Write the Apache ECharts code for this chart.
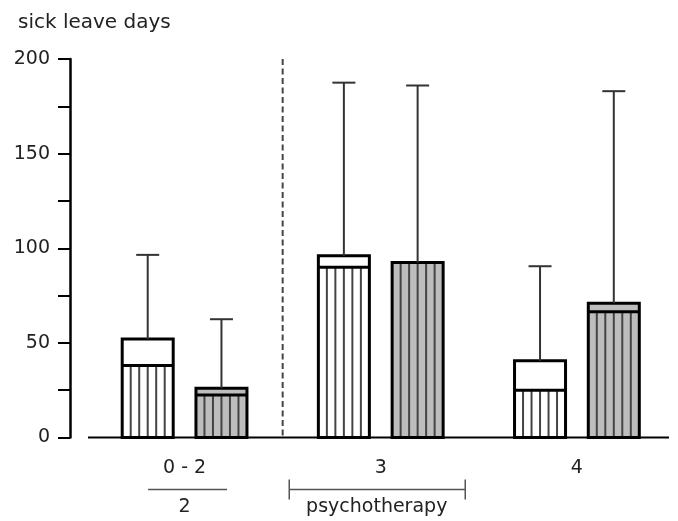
<!DOCTYPE html>
<html>
<head>
<meta charset="utf-8">
<script src="https://cdn.jsdelivr.net/npm/echarts@6/dist/echarts.min.js"></script>
<style>
html,body{margin:0;padding:0;background:#fff;}
#chart{width:678px;height:521px;}
</style>
</head>
<body>
<div id="chart"></div>
<script>
// ---- data ----
const categories = ['0 - 2', '3', '4'];
const subLabels = ['2', 'psychotherapy', ''];
const yTickLabels = [0, 50, 100, 150, 200];
// white (open) bars
const whiteTop = [52, 96, 40.5];
const whiteInner = [38, 90, 25];
const whiteWhisker = [96.5, 187.5, 90.5];
// grey bars
const greyTop = [26, 92.5, 71];
const greyInner = [22.5, 92.5, 66.5];
const greyWhisker = [62.5, 186, 183];

const FONT = 'DejaVu Sans';

function makeRender(sign, fill, hatchColor) {
  return function (params, api) {
    const cat = api.value(0);
    const inner = api.value(1), top = api.value(2), wh = api.value(3);
    const base = api.coord([cat, 0]);
    const band = api.size([1, 0])[0];
    const cx = base[0] + sign * 0.188 * band;
    const w = 0.26 * band;
    const x0 = cx - w / 2, x1 = cx + w / 2;
    const yTop = api.coord([cat, top])[1];
    const yIn = api.coord([cat, inner])[1];
    const yWh = api.coord([cat, wh])[1];
    const yB = base[1];
    const children = [];
    children.push({type: 'rect', shape: {x: x0, y: yTop, width: w, height: yB - yTop}, style: {fill: fill, stroke: null}});
    for (let k = 1; k <= 5; k++) {
      const hx = x0 + w * k / 6;
      children.push({type: 'line', shape: {x1: hx, y1: yIn, x2: hx, y2: yB}, style: {stroke: hatchColor, lineWidth: 2}});
    }
    children.push({type: 'line', shape: {x1: x0, y1: yIn, x2: x1, y2: yIn}, style: {stroke: '#000', lineWidth: 3}});
    children.push({type: 'rect', shape: {x: x0, y: yTop, width: w, height: yB - yTop}, style: {fill: null, stroke: '#000', lineWidth: 3}});
    children.push({type: 'line', shape: {x1: cx, y1: yTop, x2: cx, y2: yWh}, style: {stroke: '#333', lineWidth: 2}});
    children.push({type: 'line', shape: {x1: cx - 11.5, y1: yWh, x2: cx + 11.5, y2: yWh}, style: {stroke: '#333', lineWidth: 2}});
    return {type: 'group', children: children};
  };
}

const whiteData = categories.map((c, i) => [i, whiteInner[i], whiteTop[i], whiteWhisker[i]]);
const greyData = categories.map((c, i) => [i, greyInner[i], greyTop[i], greyWhisker[i]]);

const chart = echarts.init(document.getElementById('chart'), null, {renderer: 'canvas'});
const option = {
  animation: false,
  backgroundColor: '#fff',
  title: {
    text: 'sick leave days', left: 13, top: 8,
    textStyle: {fontFamily: FONT, fontSize: 20, fontWeight: 'normal', color: '#222'}
  },
  grid: {left: 86.5, right: 3, top: 59, bottom: 83.5},
  xAxis: {
    type: 'category', data: categories,
    axisLine: {show: false},
    axisTick: {show: false},
    axisLabel: {margin: 21, fontFamily: FONT, fontSize: 19, color: '#222'},
    splitLine: {show: false}
  },
  yAxis: {
    type: 'value', min: 0, max: 200, interval: 25, offset: 16.5,
    axisLine: {show: true, lineStyle: {color: '#000', width: 2.5}},
    axisTick: {show: true, length: 12, lineStyle: {color: '#000', width: 2}},
    axisLabel: {
      margin: 20, fontFamily: FONT, fontSize: 19, color: '#222',
      formatter: v => (yTickLabels.indexOf(v) >= 0 ? String(v) : '')
    },
    splitLine: {show: false}
  },
  series: [
    {type: 'custom', name: 'white', renderItem: makeRender(-1, '#fff', '#444'), data: whiteData, encode: {x: 0, y: [1, 2, 3]}, clip: false, z: 3},
    {type: 'custom', name: 'grey', renderItem: makeRender(1, '#bdbdbd', '#444'), data: greyData, encode: {x: 0, y: [1, 2, 3]}, clip: false, z: 3}
  ]
};
chart.setOption(option);

// decorations: x baseline, divider, underline/bracket, sub labels
const c0 = chart.convertToPixel({xAxisIndex: 0}, 0);
const c1 = chart.convertToPixel({xAxisIndex: 0}, 1);
const band = c1 - c0;
const yTopPx = chart.convertToPixel({yAxisIndex: 0}, 200);
const yBasePx = chart.convertToPixel({yAxisIndex: 0}, 0);
const lineY = 489.5, subY = 507;
const g = [];
g.push({type: 'line', z: 1, shape: {x1: 88, y1: yBasePx, x2: 669, y2: yBasePx}, style: {stroke: '#000', lineWidth: 2}});
g.push({type: 'line', shape: {x1: c0 + band / 2, y1: yTopPx, x2: c0 + band / 2, y2: yBasePx}, style: {stroke: '#444', lineWidth: 2, lineDash: [6, 3.5]}});
// group 1 underline
g.push({type: 'line', shape: {x1: c0 - 36.5, y1: lineY, x2: c0 + 42.5, y2: lineY}, style: {stroke: '#555', lineWidth: 1.5}});
// group 2 bracket
g.push({type: 'line', shape: {x1: c1 - 91.5, y1: lineY, x2: c1 + 84.5, y2: lineY}, style: {stroke: '#555', lineWidth: 1.5}});
g.push({type: 'line', shape: {x1: c1 - 91.5, y1: lineY - 10, x2: c1 - 91.5, y2: lineY + 10}, style: {stroke: '#555', lineWidth: 1.5}});
g.push({type: 'line', shape: {x1: c1 + 84.5, y1: lineY - 10, x2: c1 + 84.5, y2: lineY + 10}, style: {stroke: '#555', lineWidth: 1.5}});
subLabels.forEach((s, i) => {
  if (!s) return;
  const cx = chart.convertToPixel({xAxisIndex: 0}, i);
  g.push({type: 'text', x: cx + (i === 0 ? 0 : -4), y: subY, style: {text: s, fontFamily: FONT, fontSize: 19, fill: '#222', align: 'center', verticalAlign: 'middle'}});
});
chart.setOption({graphic: g});
</script>
</body>
</html>
